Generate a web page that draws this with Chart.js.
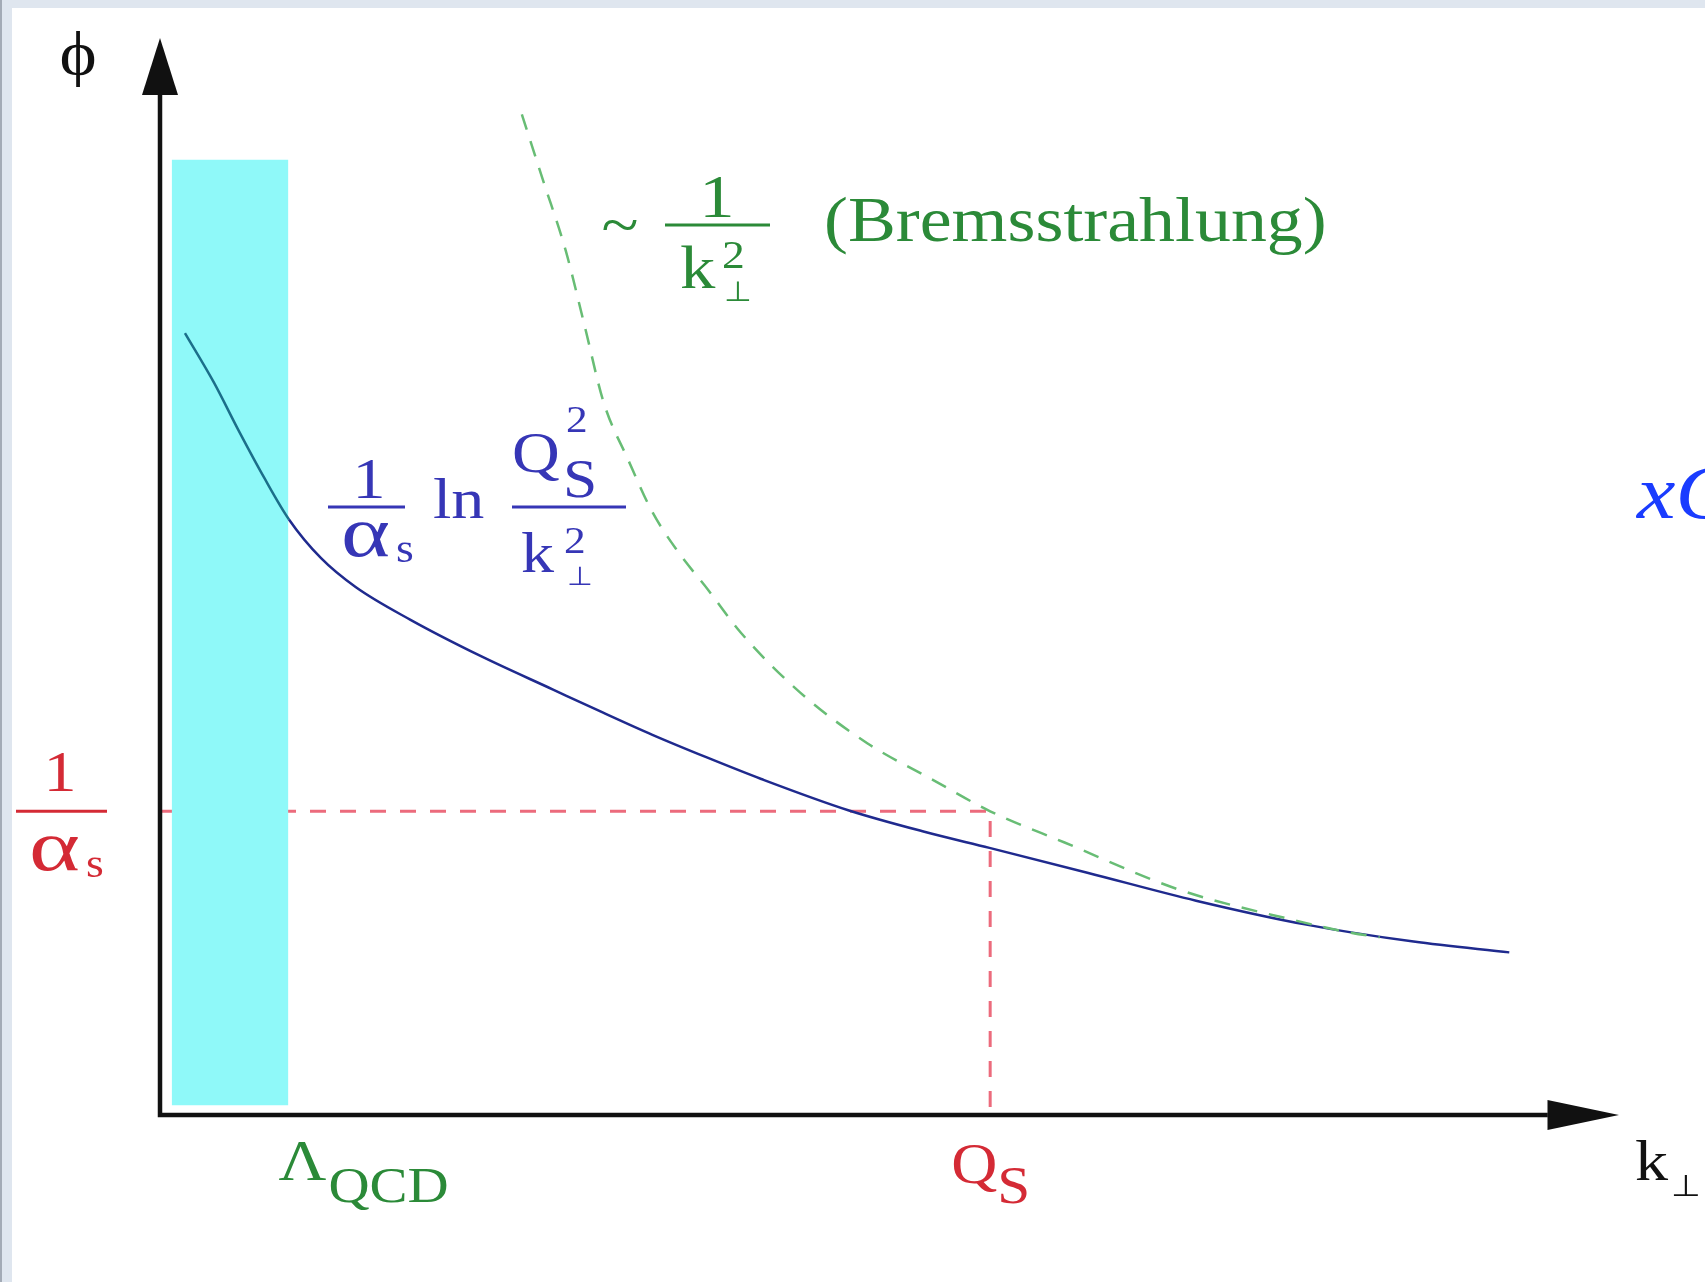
<!DOCTYPE html>
<html>
<head>
<meta charset="utf-8">
<title>phi vs k_perp</title>
<script src="https://cdn.jsdelivr.net/npm/chart.js@4.4.1/dist/chart.umd.min.js"></script>
<style>
    html, body { margin: 0; padding: 0; background: #ffffff; }
    #wrap { position: relative; width: 1705px; height: 1282px; overflow: hidden; }
    #frameTop { position: absolute; left: 0; top: 0; width: 1705px; height: 8px; background: #dfe6ef; }
    #frameLeft { position: absolute; left: 0; top: 0; width: 12px; height: 1282px; background: #dfe6ef; border-left: 2px solid #a3abb6; box-sizing: border-box; }
</style>
</head>
<body>
<div id="wrap">
    <canvas id="chart" width="1705" height="1282"></canvas>
    <div id="frameTop"></div>
    <div id="frameLeft"></div>
</div>
<script>
// values (k along x, phi along y, both 0..100 up to the arrow tips)
const gluonK = [1.71, 3.70, 5.41, 7.13, 8.84, 11.04, 13.43, 17.14, 22.0, 26.94, 30.3, 33.75, 37.48, 41.21, 47.17, 52.39, 56.85, 63.56, 71.01, 78.47, 85.92, 92.48];
const gluonPhi = [72.6, 68.0, 63.5, 59.2, 55.3, 51.7, 49.0, 46.0, 42.6, 39.5, 37.4, 35.3, 33.2, 31.2, 28.3, 26.3, 24.8, 22.5, 19.9, 17.7, 16.1, 15.1];

const bremsK = [24.8, 26.3, 27.8, 29.1, 30.4, 32.1, 33.7, 35.4, 37.6, 39.8, 43.9, 48.5, 53.0, 56.9, 62.0, 69.9, 77.7, 81.7, 83.6];
const bremsPhi = [92.9, 86.6, 80.3, 73.3, 66.2, 60.8, 56.1, 52.5, 48.7, 44.8, 39.2, 34.5, 31.1, 28.2, 25.3, 20.9, 18.1, 16.9, 16.5];

const QS = 56.9;            // saturation scale on the k axis
const INV_ALPHA = 28.2;     // 1/alpha_s level on the phi axis
const LAMBDA_BAND = [0.8, 8.8];   // non-perturbative region (k)
const BAND_PHI = [0.9, 88.7];     // its vertical extent
const ARROW_BASE_X = 95.1;
const ARROW_BASE_Y = 94.7;

const toPoints = (xs, ys) => xs.map((x, i) => ({ x: x, y: ys[i] }));

const SX = 1.14; // the picture is stretched sideways
const SERIF = '"Liberation Serif", "Times New Roman", serif';

function txt(ctx, s, x, y, size, color, align, italic, sx) {
    ctx.save();
    ctx.font = `${italic ? "italic " : ""}${size}px ${SERIF}`;
    ctx.fillStyle = color;
    ctx.textAlign = align || "left";
    ctx.textBaseline = "alphabetic";
    ctx.translate(x, y);
    ctx.scale(sx || SX, 1);
    ctx.fillText(s, 0, 0);
    ctx.restore();
}

function bar(ctx, x1, x2, y, color) {
    ctx.save();
    ctx.strokeStyle = color;
    ctx.lineWidth = 3;
    ctx.beginPath();
    ctx.moveTo(x1, y);
    ctx.lineTo(x2, y);
    ctx.stroke();
    ctx.restore();
}

const axesPlugin = {
    id: "arrowAxes",
    afterDatasetsDraw(chart) {
        const { ctx, scales: { x, y } } = chart;
        const x0 = x.getPixelForValue(0);
        const y0 = y.getPixelForValue(0);
        const yTip = y.getPixelForValue(100);
        const yBase = y.getPixelForValue(ARROW_BASE_Y);
        const xTip = x.getPixelForValue(100);
        const xBase = x.getPixelForValue(ARROW_BASE_X);

        ctx.save();
        ctx.strokeStyle = "#111111";
        ctx.fillStyle = "#111111";
        ctx.lineWidth = 4.5;
        ctx.lineCap = "square";
        ctx.beginPath();
        ctx.moveTo(x0, yBase + 2);
        ctx.lineTo(x0, y0);
        ctx.lineTo(xBase - 2, y0);
        ctx.stroke();

        ctx.beginPath();
        ctx.moveTo(x0, yTip);
        ctx.lineTo(x0 - 18, yBase);
        ctx.lineTo(x0 + 18, yBase);
        ctx.closePath();
        ctx.fill();

        ctx.beginPath();
        ctx.moveTo(xTip, y0);
        ctx.lineTo(xBase, y0 - 15);
        ctx.lineTo(xBase, y0 + 15);
        ctx.closePath();
        ctx.fill();
        ctx.restore();
    },
};

const labelPlugin = {
    id: "physLabels",
    afterDraw(chart) {
        const { ctx, scales: { x, y } } = chart;
        const red = "#d42a35";
        const green = "#2b8a38";
        const blue = "#3636b6";
        const black = "#111111";

        // axis names
        txt(ctx, "ϕ", 78, 74, 62, black, "center");
        const kx = x.getPixelForValue(100) + 16;
        txt(ctx, "k", kx, 1180, 58, black);
        txt(ctx, "⊥", kx + 36, 1196, 30, black);

        // 1/alpha_s on the phi axis
        const ya = y.getPixelForValue(INV_ALPHA);
        txt(ctx, "1", 60, ya - 20, 58, red, "center");
        bar(ctx, 16, 107, ya, red);
        txt(ctx, "α", 29, ya + 59, 72, red, "left", false, 1.35);
        txt(ctx, "s", 86, ya + 66, 40, red);

        // Q_S on the k axis
        const xq = x.getPixelForValue(QS);
        txt(ctx, "Q", xq - 39, 1183, 56, red);
        txt(ctx, "S", xq + 7, 1203, 52, red);

        // Lambda_QCD under the band
        const xl = x.getPixelForValue(LAMBDA_BAND[1]);
        txt(ctx, "Λ", xl - 10, 1180, 58, green);
        txt(ctx, "QCD", xl + 40, 1202, 50, green);

        // (1/alpha_s) ln(Q_S^2/k^2)
        txt(ctx, "1", 369, 498, 58, blue, "center");
        bar(ctx, 328, 405, 507, blue);
        txt(ctx, "α", 341, 556, 72, blue, "left", false, 1.3);
        txt(ctx, "s", 396, 562, 40, blue);
        txt(ctx, "ln", 433, 518, 58, blue);
        txt(ctx, "Q", 512, 472, 58, blue);
        txt(ctx, "2", 566, 432, 38, blue);
        txt(ctx, "S", 563, 497, 54, blue);
        bar(ctx, 512, 626, 507, blue);
        txt(ctx, "k", 521, 572, 58, blue);
        txt(ctx, "2", 564, 553, 38, blue);
        txt(ctx, "⊥", 567, 585, 26, blue);

        // ~ 1/k^2 (Bremsstrahlung)
        txt(ctx, "~", 620, 245, 60, green, "center");
        txt(ctx, "1", 717, 217, 62, green, "center");
        bar(ctx, 665, 770, 225, green);
        txt(ctx, "k", 680, 288, 62, green);
        txt(ctx, "2", 722, 268, 40, green);
        txt(ctx, "⊥", 724, 301, 28, green);
        txt(ctx, "(Bremsstrahlung)", 824, 241, 63, green);

        // cut-off xG at the right edge
        txt(ctx, "xG", 1637, 518, 76, "#1a3cff", "left", true);
    },
};

new Chart(document.getElementById("chart"), {
    type: "line",
    data: {
        datasets: [
            {
                label: "Bremsstrahlung",
                data: toPoints(bremsK, bremsPhi),
                borderColor: "#68bd75",
                borderWidth: 2.5,
                borderDash: [16, 12],
                pointRadius: 0,
                cubicInterpolationMode: "monotone",
                fill: false,
                order: 0,
            },
            {
                label: "phi",
                data: toPoints(gluonK, gluonPhi),
                borderColor: "#1f2a8e",
                borderWidth: 2.5,
                pointRadius: 0,
                cubicInterpolationMode: "monotone",
                fill: false,
                order: 1,
                // over the cyan band the line looks teal
                segment: {
                    borderColor: (c) => (c.p0.parsed.x < LAMBDA_BAND[1] ? "#1b6f8a" : "#1f2a8e"),
                },
            },
            {
                label: "Lambda band",
                data: toPoints(LAMBDA_BAND, [BAND_PHI[1], BAND_PHI[1]]),
                borderWidth: 0,
                borderColor: "rgba(0,0,0,0)",
                backgroundColor: "#8ff9f9",
                pointRadius: 0,
                fill: { value: BAND_PHI[0] },
                order: 2,
            },
            {
                label: "guides",
                data: toPoints([0, QS, QS], [INV_ALPHA, INV_ALPHA, 0]),
                borderColor: "#ec6b7c",
                borderWidth: 3,
                borderDash: [16, 14],
                pointRadius: 0,
                tension: 0,
                fill: false,
                order: 3,
            },
        ],
    },
    options: {
        responsive: false,
        devicePixelRatio: 1,
        animation: false,
        events: [],
        layout: { autoPadding: false, padding: { left: 160, right: 86, top: 38, bottom: 167 } },
        plugins: { legend: { display: false }, tooltip: { enabled: false } },
        scales: {
            x: { type: "linear", min: 0, max: 100, display: false },
            y: { type: "linear", min: 0, max: 100, display: false },
        },
    },
    plugins: [axesPlugin, labelPlugin],
});
</script>
</body>
</html>
